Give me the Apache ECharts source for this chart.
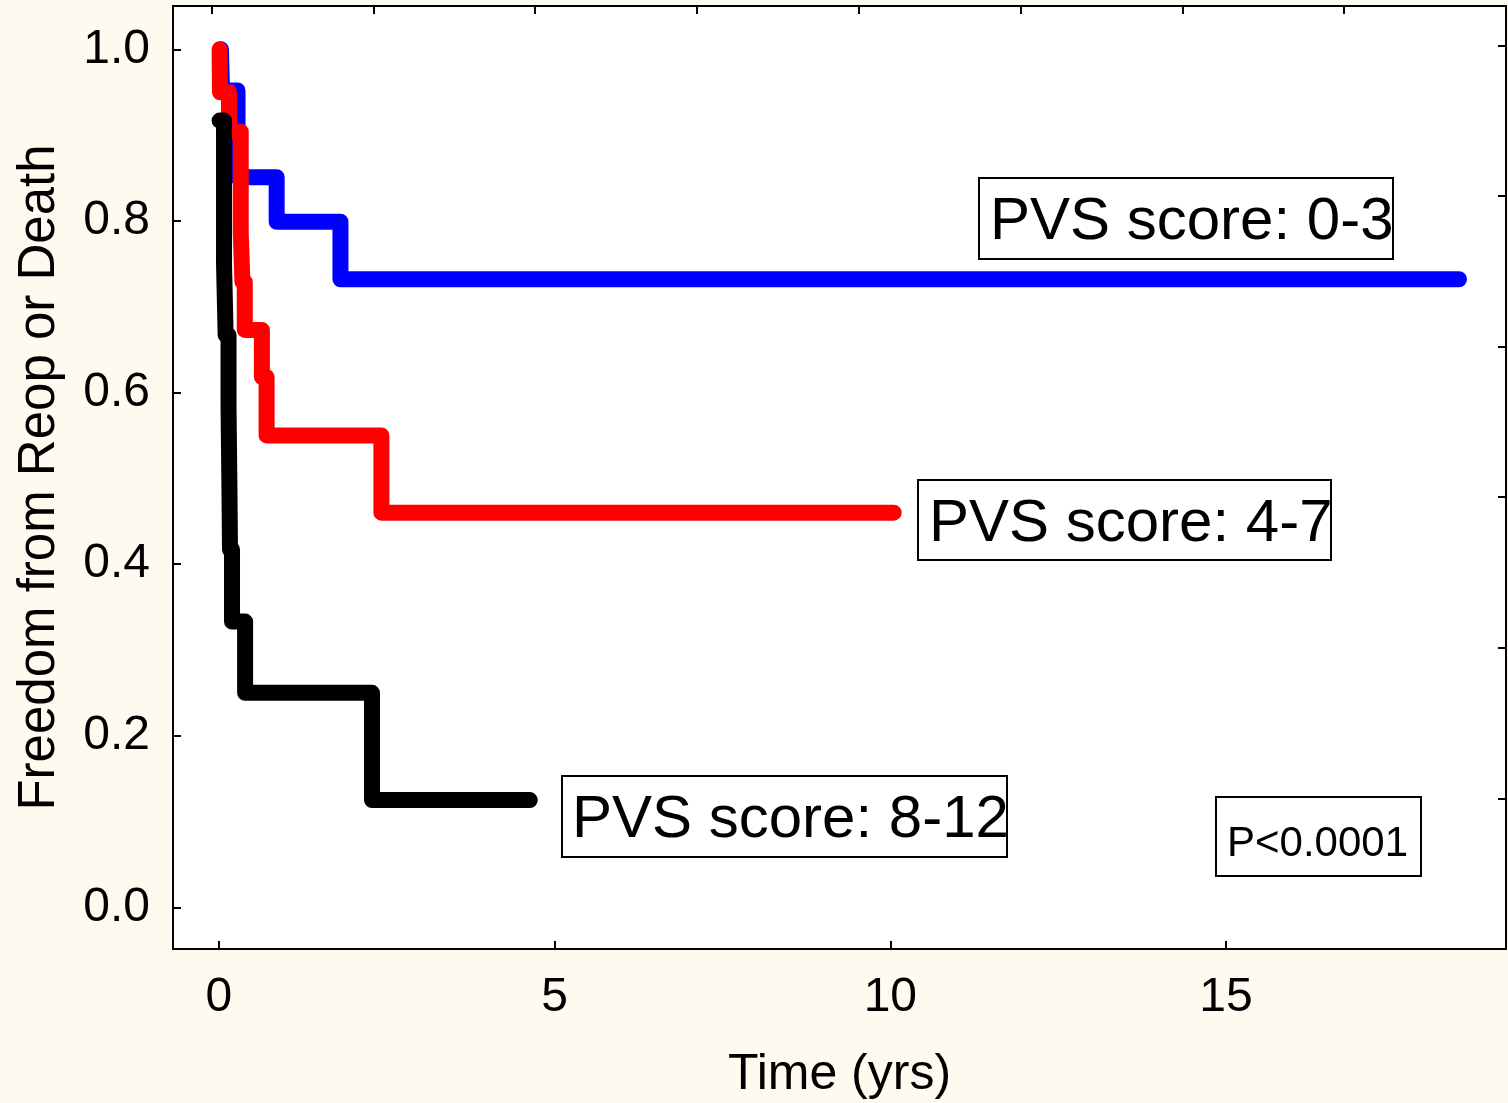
<!DOCTYPE html>
<html>
<head>
<meta charset="utf-8">
<style>
  html, body { margin: 0; padding: 0; background: #FFFAF0; }
  #chart { width: 1508px; height: 1103px; }
</style>
<script src="https://cdn.jsdelivr.net/npm/echarts@6/dist/echarts.min.js"></script>
</head>
<body>
<div id="chart"></div>
<script>
// ---- data ----
const xTickValues = [0, 5, 10, 15];
const yTickValues = [0, 0.2, 0.4, 0.6, 0.8, 1.0];

const blueTime = [0.03, 0.046, 0.277, 0.86, 1.81, 18.47];
const blueSurv = [1.0, 0.952, 0.851, 0.799, 0.732, 0.732];

const redTime = [0.01, 0.016, 0.15, 0.325, 0.35, 0.385, 0.64, 0.71, 2.42, 10.05];
const redSurv = [1.0, 0.95, 0.904, 0.786, 0.729, 0.673, 0.618, 0.55, 0.46, 0.46];

const blackTime = [0.01, 0.076, 0.10, 0.143, 0.155, 0.165, 0.195, 0.39, 2.28, 4.63];
const blackSurv = [0.917, 0.75, 0.667, 0.583, 0.5, 0.417, 0.333, 0.25, 0.125, 0.125];

const groupLabels = ['PVS score: 0-3', 'PVS score: 4-7', 'PVS score: 8-12'];
const pText = 'P<0.0001';
const xName = 'Time (yrs)';
const yName = 'Freedom from Reop or Death';

// ---- chart ----
const FONT = '"Liberation Sans", Arial, Helvetica, sans-serif';
const zip = (t, s) => t.map((v, i) => [v, s[i]]);

const chart = echarts.init(document.getElementById('chart'), null, { renderer: 'canvas' });

const axisLine = { show: true, onZero: false, lineStyle: { color: '#000', width: 2 } };
const tickStyle = { color: '#000', width: 2 };

function lineSeries(data, color) {
  return {
    type: 'line',
    step: 'end',
    data: data,
    xAxisIndex: 0,
    yAxisIndex: 0,
    showSymbol: false,
    symbol: 'none',
    animation: false,
    lineStyle: { color: color, width: 16, cap: 'round', join: 'round' }
  };
}

function box(x, y, w, h, text, fontSize, tx, ty) {
  return [
    {
      type: 'rect',
      shape: { x: x, y: y, width: w, height: h },
      style: { fill: '#fff', stroke: '#000', lineWidth: 2 },
      z: 100
    },
    {
      type: 'text',
      x: tx, y: ty,
      style: {
        text: text, fill: '#000', font: fontSize + 'px ' + FONT,
        textAlign: 'left', textVerticalAlign: 'bottom'
      },
      z: 101
    }
  ];
}

const option = {
  backgroundColor: '#FFFAF0',
  animation: false,
  grid: {
    left: 173, right: 2, top: 6, bottom: 154,
    containLabel: false,
    outerBoundsMode: 'none',
    show: true, backgroundColor: '#ffffff', borderWidth: 0
  },
  xAxis: [
    {
      type: 'value', position: 'bottom',
      min: -0.684, max: 19.17,
      name: xName, nameLocation: 'middle', nameGap: 101,
      nameTextStyle: { fontFamily: FONT, fontSize: 50, color: '#000' },
      axisLine: axisLine,
      axisTick: { show: true, inside: true, length: 8, lineStyle: tickStyle, customValues: xTickValues },
      axisLabel: { show: true, margin: 25, fontFamily: FONT, fontSize: 48, color: '#000', customValues: xTickValues },
      splitLine: { show: false }
    },
    {
      type: 'value', position: 'top', inverse: true,
      min: 0, max: 8.238, interval: 1,
      axisLine: axisLine,
      axisTick: { show: true, inside: true, length: 8, lineStyle: tickStyle },
      axisLabel: { show: false },
      splitLine: { show: false }
    }
  ],
  yAxis: [
    {
      type: 'value', position: 'left',
      min: -0.0486, max: 1.0505,
      name: yName, nameLocation: 'middle', nameGap: 108, nameRotate: 90,
      nameTextStyle: { fontFamily: FONT, fontSize: 51, color: '#000' },
      axisLine: axisLine,
      axisTick: { show: true, inside: true, length: 8, lineStyle: tickStyle, customValues: yTickValues },
      axisLabel: {
        show: true, margin: 23, fontFamily: FONT, fontSize: 48, color: '#000',
        customValues: yTickValues,
        formatter: v => v.toFixed(1)
      },
      splitLine: { show: false }
    },
    {
      type: 'value', position: 'right',
      min: 0, max: 6.262, interval: 1,
      axisLine: axisLine,
      axisTick: { show: true, inside: true, length: 8, lineStyle: tickStyle },
      axisLabel: { show: false },
      splitLine: { show: false }
    }
  ],
  series: [
    lineSeries(zip(blueTime, blueSurv), '#0000ff'),
    lineSeries(zip(redTime, redSurv), '#ff0000'),
    lineSeries(zip(blackTime, blackSurv), '#000000')
  ],
  graphic: [].concat(
    box(979, 178, 414, 81, groupLabels[0], 60, 990, 252),
    box(918, 480, 413, 80, groupLabels[1], 60, 929, 554),
    box(562, 776, 445, 81, groupLabels[2], 60, 572, 850),
    box(1216, 797, 205, 79, pText, 42, 1227, 865)
  )
};

chart.setOption(option);
</script>
</body>
</html>
